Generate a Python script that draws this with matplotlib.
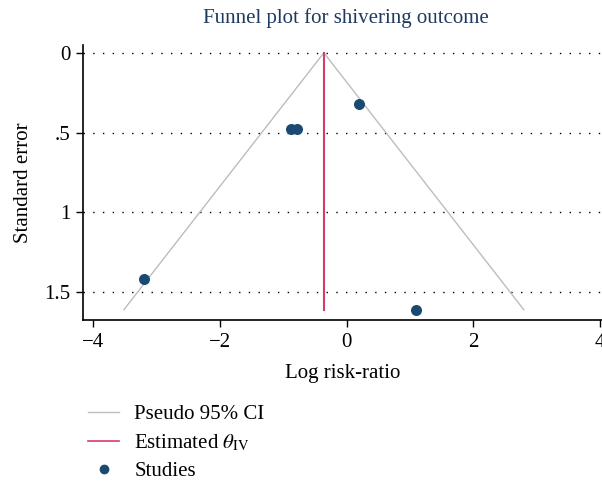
import matplotlib
matplotlib.use("Agg")
import matplotlib.pyplot as plt
from matplotlib.lines import Line2D

# study estimates: log risk-ratio and its standard error
log_rr = [0.19, -0.88, -0.79, -3.20, 1.09]
std_err = [0.32, 0.477, 0.477, 1.417, 1.61]

# inverse-variance pooled estimate and funnel limits
theta_iv = -0.36
se_max = 1.61
z95 = 1.96

xticks = [-4, -2, 0, 2, 4]
yticks = [0, 0.5, 1, 1.5]
ytick_labels = ["0", ".5", "1", "1.5"]

plt.rcParams['font.family'] = ['Liberation Serif', 'DejaVu Serif']
plt.rcParams['mathtext.fontset'] = 'stix'

navy = "#1f3a5f"
dot_col = "#1a4a72"
red = "#d43d66"
grey = "#bdbdbd"

fig = plt.figure(figsize=(6.02, 4.82), dpi=100)
ax = fig.add_axes([0.138, 0.336, 0.862, 0.571])

# pseudo 95% confidence funnel
ax.plot([theta_iv - z95 * se_max, theta_iv, theta_iv + z95 * se_max],
        [se_max, 0, se_max], color=grey, lw=1)
ax.plot([theta_iv, theta_iv], [0, se_max], color=red, lw=1.5)
ax.scatter(log_rr, std_err, s=48, color=dot_col, zorder=3)

for yv in yticks:
    ax.axhline(yv, color="black", lw=1.0, ls=(0, (1, 6)), zorder=0)

ax.set_xlim(-4.16, 4.03)
ax.set_ylim(1.675, -0.05)
ax.set_xticks(xticks)
ax.set_xticklabels([str(v).replace("-", "\u2212") for v in xticks])
ax.set_yticks(yticks)
ax.set_yticklabels(ytick_labels)
ax.tick_params(labelsize=15, length=5, width=1, colors="black", pad=4)
for s in ["top", "right"]:
    ax.spines[s].set_visible(False)
ax.spines["left"].set_linewidth(1.2)
ax.spines["bottom"].set_linewidth(1.2)

ax.set_xlabel("Log risk-ratio", fontsize=15, labelpad=9)
ax.set_ylabel("Standard error", fontsize=15, labelpad=8)
fig.text(346 / 602, 1 - 18 / 482, "Funnel plot for shivering outcome",
         ha="center", va="center", fontsize=15, color=navy)

handles = [
    Line2D([], [], color=grey, lw=1),
    Line2D([], [], color=red, lw=1.2),
    Line2D([], [], ls="none", marker="o", ms=6, color=dot_col),
]
labels = ["Pseudo 95% CI", r"Estimated $\theta_{\mathrm{IV}}$", "Studies"]
fig.legend(handles, labels, loc="upper left", bbox_to_anchor=(0.133, 0.178),
           frameon=False, fontsize=15, handlelength=1.45, handletextpad=0.75,
           labelspacing=0.4, borderaxespad=0)

fig.savefig("out.png", dpi=100)
